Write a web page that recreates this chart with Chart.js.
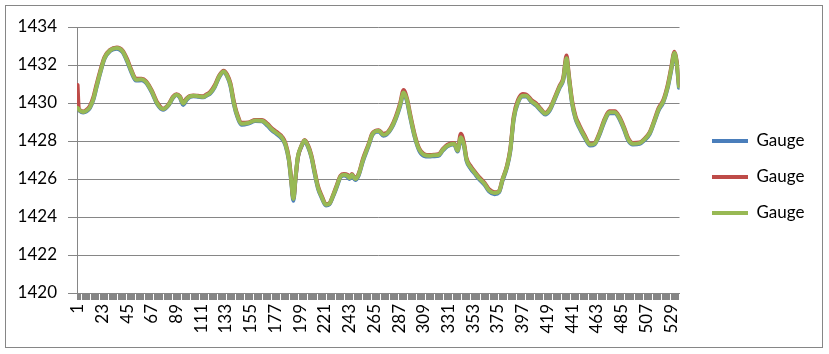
<!DOCTYPE html>
<html>
<head>
<meta charset="utf-8">
<script src="https://cdn.jsdelivr.net/npm/chart.js@4.4.1/dist/chart.umd.min.js"></script>
<style>
  html, body { margin: 0; padding: 0; background: #fff; }
  canvas { display: block; }
</style>
</head>
<body>
<canvas id="gaugeChart" width="829" height="354"></canvas>
<script>
// sample positions (row index), 536 rows in total
const rowCount = 536;
const sampleIdx = [
    1, 2, 3, 6, 9, 12, 15, 18, 21, 25,
    30, 36, 41, 45, 49, 53, 58, 62, 67, 72,
    77, 82, 86, 89, 92, 95, 98, 101, 104, 108,
    113, 116, 119, 123, 127, 131, 134, 137, 140, 143,
    147, 153, 159, 165, 170, 174, 178, 183, 186, 189,
    191, 193, 195, 197, 200, 203, 206, 209, 212, 215,
    218, 222, 225, 228, 231, 235, 238, 241, 243, 245,
    248, 251, 255, 260, 263, 266, 269, 273, 276, 280,
    284, 288, 291, 294, 297, 301, 305, 309, 314, 318,
    322, 326, 330, 336, 339, 342, 345, 347, 351, 354,
    358, 363, 367, 372, 376, 379, 383, 386, 389, 393,
    397, 400, 405, 409, 413, 417, 421, 425, 430, 433,
    436, 438, 441, 444, 447, 452, 457, 461, 465, 470,
    474, 479, 483, 487, 491, 495, 501, 505, 510, 514,
    518, 522, 526, 529, 532, 534, 536
];

const gaugeBlue = [
    1429.72, 1429.66, 1429.58, 1429.5, 1429.56, 1429.74, 1430.16, 1430.85, 1431.54, 1432.33,
    1432.74, 1432.86, 1432.68, 1432.2, 1431.6, 1431.18, 1431.2, 1431.05, 1430.56, 1429.92,
    1429.64, 1429.88, 1430.27, 1430.42, 1430.28, 1429.9, 1430.16, 1430.32, 1430.35, 1430.33,
    1430.3, 1430.4, 1430.5, 1430.83, 1431.36, 1431.63, 1431.4, 1430.9, 1429.95, 1429.3,
    1428.86, 1428.92, 1429.05, 1429.04, 1428.8, 1428.55, 1428.37, 1428.1, 1427.76, 1426.96,
    1425.9, 1424.85, 1426.08, 1427.14, 1427.68, 1428.0, 1427.68, 1427.14, 1426.26, 1425.48,
    1425.03, 1424.6, 1424.66, 1425.04, 1425.48, 1426.1, 1426.18, 1426.12, 1426.0, 1426.2,
    1425.95, 1426.18, 1426.96, 1427.76, 1428.28, 1428.47, 1428.5, 1428.28, 1428.34, 1428.64,
    1429.15, 1429.85, 1430.48, 1430.1, 1429.22, 1428.18, 1427.48, 1427.22, 1427.18, 1427.2,
    1427.22, 1427.5, 1427.72, 1427.83, 1427.45, 1428.12, 1427.66, 1426.96, 1426.52, 1426.3,
    1426.0, 1425.7, 1425.35, 1425.2, 1425.3, 1425.9, 1426.6, 1427.48, 1429.14, 1430.04,
    1430.34, 1430.34, 1430.04, 1429.86, 1429.6, 1429.4, 1429.6, 1430.12, 1430.82, 1431.18,
    1432.28, 1431.34, 1429.94, 1429.16, 1428.74, 1428.18, 1427.76, 1427.82, 1428.28, 1429.06,
    1429.46, 1429.46, 1429.16, 1428.62, 1428.02, 1427.82, 1427.85, 1428.02, 1428.37, 1428.98,
    1429.62, 1430.03, 1430.8, 1431.68, 1432.56, 1432.04, 1430.8
];

const gaugeRed = [
    1430.95, 1429.75, 1429.62, 1429.55, 1429.64, 1429.85, 1430.3, 1431.0, 1431.66, 1432.42,
    1432.8, 1432.92, 1432.76, 1432.32, 1431.72, 1431.28, 1431.28, 1431.14, 1430.66, 1430.02,
    1429.7, 1429.94, 1430.34, 1430.46, 1430.36, 1430.02, 1430.24, 1430.38, 1430.4, 1430.38,
    1430.36, 1430.46, 1430.58, 1430.93, 1431.45, 1431.7, 1431.5, 1431.04, 1430.1, 1429.42,
    1428.96, 1428.98, 1429.1, 1429.1, 1428.9, 1428.66, 1428.48, 1428.22, 1427.88, 1427.1,
    1426.05, 1425.0, 1426.1, 1427.15, 1427.72, 1428.05, 1427.78, 1427.25, 1426.4, 1425.6,
    1425.14, 1424.68, 1424.72, 1425.1, 1425.58, 1426.18, 1426.26, 1426.22, 1426.1, 1426.26,
    1426.04, 1426.27, 1427.08, 1427.86, 1428.38, 1428.54, 1428.57, 1428.38, 1428.42, 1428.74,
    1429.27, 1430.0, 1430.68, 1430.25, 1429.38, 1428.32, 1427.6, 1427.32, 1427.26, 1427.28,
    1427.3, 1427.58, 1427.8, 1427.9, 1427.55, 1428.38, 1427.82, 1427.1, 1426.66, 1426.42,
    1426.12, 1425.8, 1425.46, 1425.3, 1425.38, 1425.98, 1426.7, 1427.6, 1429.3, 1430.18,
    1430.48, 1430.45, 1430.15, 1429.98, 1429.7, 1429.48, 1429.7, 1430.22, 1430.93, 1431.3,
    1432.5, 1431.5, 1430.1, 1429.3, 1428.88, 1428.3, 1427.85, 1427.9, 1428.38, 1429.18,
    1429.56, 1429.56, 1429.27, 1428.75, 1428.13, 1427.9, 1427.92, 1428.1, 1428.47, 1429.08,
    1429.74, 1430.14, 1430.95, 1431.83, 1432.7, 1432.2, 1430.95
];

const gaugeGreen = [
    1429.74, 1429.68, 1429.6, 1429.53, 1429.6, 1429.78, 1430.2, 1430.9, 1431.58, 1432.37,
    1432.77, 1432.89, 1432.72, 1432.25, 1431.66, 1431.23, 1431.25, 1431.1, 1430.61, 1429.96,
    1429.68, 1429.91, 1430.3, 1430.44, 1430.32, 1429.97, 1430.2, 1430.35, 1430.38, 1430.36,
    1430.32, 1430.42, 1430.53, 1430.87, 1431.4, 1431.66, 1431.44, 1430.96, 1430.0, 1429.35,
    1428.91, 1428.95, 1429.08, 1429.07, 1428.85, 1428.6, 1428.42, 1428.16, 1427.81, 1427.02,
    1425.96, 1424.95, 1426.14, 1427.19, 1427.72, 1428.03, 1427.72, 1427.19, 1426.32, 1425.53,
    1425.08, 1424.65, 1424.7, 1425.08, 1425.53, 1426.14, 1426.23, 1426.17, 1426.05, 1426.23,
    1426.0, 1426.23, 1427.02, 1427.81, 1428.33, 1428.51, 1428.54, 1428.33, 1428.38, 1428.68,
    1429.2, 1429.91, 1430.55, 1430.17, 1429.29, 1428.24, 1427.54, 1427.28, 1427.23, 1427.25,
    1427.26, 1427.54, 1427.75, 1427.86, 1427.49, 1428.2, 1427.72, 1427.02, 1426.58, 1426.36,
    1426.05, 1425.75, 1425.4, 1425.26, 1425.35, 1425.96, 1426.66, 1427.54, 1429.2, 1430.08,
    1430.38, 1430.38, 1430.08, 1429.91, 1429.65, 1429.44, 1429.65, 1430.17, 1430.87, 1431.23,
    1432.35, 1431.4, 1430.0, 1429.21, 1428.8, 1428.24, 1427.81, 1427.86, 1428.33, 1429.12,
    1429.51, 1429.51, 1429.21, 1428.68, 1428.07, 1427.86, 1427.89, 1428.07, 1428.42, 1429.03,
    1429.68, 1430.08, 1430.87, 1431.75, 1432.63, 1432.11, 1430.87
];

const xTickLabels = [1, 23, 45, 67, 89, 111, 133, 155, 177, 199, 221, 243, 265, 287, 309, 331,
    353, 375, 397, 419, 441, 463, 485, 507, 529];
const seriesNames = ["Gauge", "Gauge", "Gauge"];

const FONT = "Lato";
const GRID = "#868686";

function toPoints(values) {
    return sampleIdx.map((x, i) => ({ x: x, y: values[i] }));
}

function lineSet(label, values, color, order) {
    return {
        label: label,
        data: toPoints(values),
        borderColor: color,
        backgroundColor: color,
        borderWidth: 4,
        borderCapStyle: "round",
        borderJoinStyle: "round",
        pointRadius: 0,
        cubicInterpolationMode: "monotone",
        order: order
    };
}

// outer frame round the whole chart
const framePlugin = {
    id: "frame",
    beforeDraw(chart) {
        const ctx = chart.ctx;
        ctx.save();
        ctx.fillStyle = "#fff";
        ctx.fillRect(0, 0, chart.width, chart.height);
        ctx.strokeStyle = GRID;
        ctx.lineWidth = 1;
        ctx.strokeRect(5.5, 5.5, 817, 342);
        ctx.restore();
    }
};

// put the legend where the original had it
const legendPlace = {
    id: "legendPlace",
    afterLayout(chart) {
        const l = chart.legend;
        const w = l.width;
        l.left = 693;
        l.right = 693 + w;
        l.top = 0;
        l.bottom = 354;
        l.height = 354;
    }
};

new Chart(document.getElementById("gaugeChart"), {
    type: "line",
    data: {
        datasets: [
            lineSet(seriesNames[0], gaugeBlue, "#4A7EBB", 3),
            lineSet(seriesNames[1], gaugeRed, "#BE4B48", 2),
            lineSet(seriesNames[2], gaugeGreen, "#98B954", 1)
        ]
    },
    options: {
        responsive: false,
        animation: false,
        layout: { padding: { left: 0, top: 27, right: 28, bottom: 0 } },
        plugins: {
            tooltip: { enabled: false },
            legend: {
                position: "right",
                labels: {
                    usePointStyle: true,
                    pointStyle: "line",
                    pointStyleWidth: 36,
                    padding: 19,
                    color: "#000",
                    font: { family: FONT, size: 17 },
                    sort: (a, b) => a.datasetIndex - b.datasetIndex
                }
            }
        },
        scales: {
            x: {
                type: "linear",
                min: 0.5,
                max: rowCount + 0.5,
                afterBuildTicks(axis) {
                    const t = [];
                    for (let i = 1; i <= rowCount; i++) t.push({ value: i });
                    axis.ticks = t;
                },
                afterFit(axis) { axis.height = 61; },
                grid: { drawOnChartArea: false, drawTicks: true, tickLength: 7, color: GRID },
                border: { color: GRID },
                ticks: {
                    autoSkip: false,
                    minRotation: 90,
                    maxRotation: 90,
                    padding: 4,
                    color: "#000",
                    font: { family: FONT, size: 17 },
                    callback: v => xTickLabels.includes(v) ? String(v) : ""
                }
            },
            y: {
                min: 1420,
                max: 1434,
                afterFit(axis) { axis.width = 77; },
                grid: { color: GRID, tickLength: 9 },
                border: { color: GRID },
                ticks: {
                    stepSize: 2,
                    padding: 11,
                    color: "#000",
                    font: { family: FONT, size: 17 },
                    callback: v => String(v)
                }
            }
        }
    },
    plugins: [framePlugin, legendPlace]
});
</script>
</body>
</html>
